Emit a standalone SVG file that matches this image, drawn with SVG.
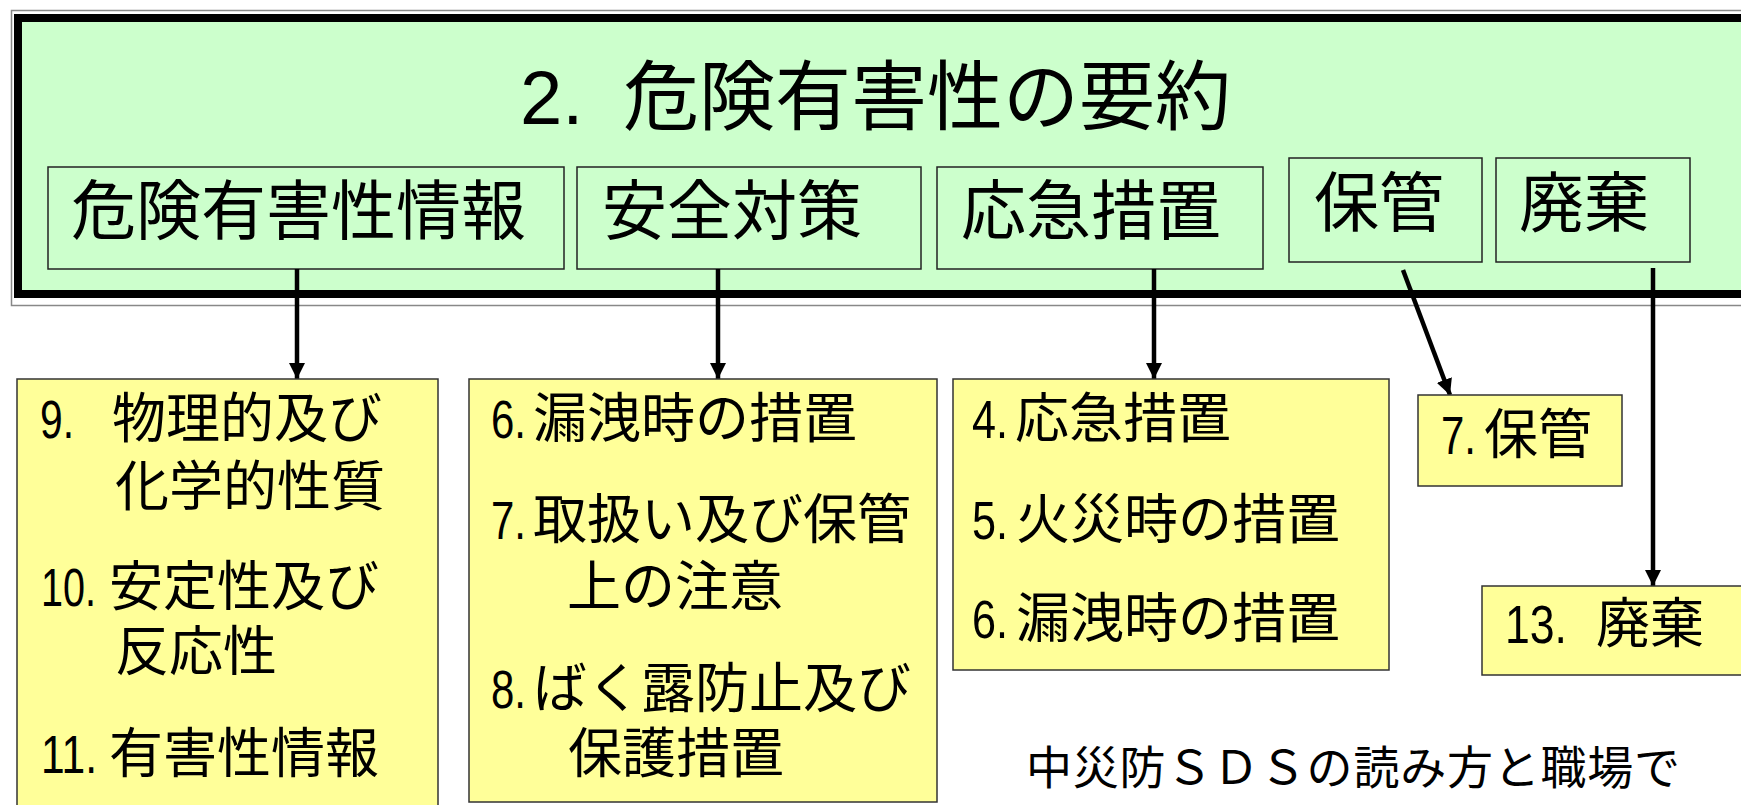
<svg xmlns="http://www.w3.org/2000/svg" width="1741" height="805" viewBox="0 0 1741 805">
<defs>
<style>
text{font-family:"Liberation Sans","Noto Sans CJK JP",sans-serif;fill:#000}
.g{fill:#ccffcc;stroke:#222;stroke-width:1.5}
.y{fill:#ffff99;stroke:#333;stroke-width:1.5}
.t1{font-size:65px}
.t2{font-size:54px}
.conn{stroke:#000;stroke-width:4.5;fill:none;marker-end:url(#ah)}
</style>
<marker id="ah" viewBox="0 0 10 10" refX="10" refY="5" markerWidth="16" markerHeight="16" markerUnits="userSpaceOnUse" orient="auto">
<path d="M0,0 L10,5 L0,10 z" fill="#000"/>
</marker>
</defs>
<rect width="1741" height="805" fill="#fff"/>
<g id="frame">
<rect x="11.5" y="10.5" width="1800" height="295" fill="none" stroke="#888" stroke-width="1.5"/>
<rect x="18" y="18" width="1800" height="276" fill="#ccffcc" stroke="#000" stroke-width="8"/>
<text x="520" y="124" style="font-size:76px">2.<tspan x="623">危険有害性の要約</tspan></text>
</g>
<g id="node-hazard-info">
<rect class="g" x="48" y="167" width="516" height="102"/>
<text class="t1" x="71" y="234">危険有害性情報</text>
</g>
<g id="node-safety">
<rect class="g" x="577" y="167" width="344" height="102"/>
<text class="t1" x="602" y="234">安全対策</text>
</g>
<g id="node-emergency">
<rect class="g" x="937" y="167" width="326" height="102"/>
<text class="t1" x="961" y="234">応急措置</text>
</g>
<g id="node-storage">
<rect class="g" x="1289" y="158" width="193" height="104"/>
<text class="t1" x="1314" y="226">保管</text>
</g>
<g id="node-disposal">
<rect class="g" x="1496" y="158" width="194" height="104"/>
<text class="t1" x="1519" y="226">廃棄</text>
</g>
<g id="connectors">
<line class="conn" x1="297" y1="269" x2="297" y2="379"/>
<line class="conn" x1="718" y1="269" x2="718" y2="379"/>
<line class="conn" x1="1154" y1="269" x2="1154" y2="379"/>
<line class="conn" x1="1403" y1="270" x2="1450" y2="395"/>
<line class="conn" x1="1653" y1="268" x2="1653" y2="586"/>
</g>
<g id="node-sec9-11">
<rect class="y" x="17" y="379" width="421" height="440"/>
<text class="t2" x="40" y="438" textLength="34" lengthAdjust="spacingAndGlyphs">9.</text>
<text class="t2" x="112" y="438">物理的及び</text>
<text class="t2" x="115" y="506">化学的性質</text>
<text class="t2" x="41" y="606" textLength="55" lengthAdjust="spacingAndGlyphs">10.</text>
<text class="t2" x="109" y="606">安定性及び</text>
<text class="t2" x="115" y="671">反応性</text>
<text class="t2" x="41" y="773" textLength="56" lengthAdjust="spacingAndGlyphs">11.</text>
<text class="t2" x="109" y="773">有害性情報</text>
</g>
<g id="node-sec6-8">
<rect class="y" x="469" y="379" width="468" height="423"/>
<text class="t2" x="491" y="438" textLength="35" lengthAdjust="spacingAndGlyphs">6.</text>
<text class="t2" x="533" y="438">漏洩時の措置</text>
<text class="t2" x="491" y="539" textLength="35" lengthAdjust="spacingAndGlyphs">7.</text>
<text class="t2" x="533" y="539">取扱い及び保管</text>
<text class="t2" x="567" y="606">上の注意</text>
<text class="t2" x="491" y="708" textLength="35" lengthAdjust="spacingAndGlyphs">8.</text>
<text class="t2" x="533" y="708">ばく露防止及び</text>
<text class="t2" x="568" y="773">保護措置</text>
</g>
<g id="node-sec4-6">
<rect class="y" x="953" y="379" width="436" height="291"/>
<text class="t2" x="972" y="438" textLength="36" lengthAdjust="spacingAndGlyphs">4.</text>
<text class="t2" x="1015" y="438">応急措置</text>
<text class="t2" x="972" y="539" textLength="36" lengthAdjust="spacingAndGlyphs">5.</text>
<text class="t2" x="1016" y="539">火災時の措置</text>
<text class="t2" x="972" y="638" textLength="36" lengthAdjust="spacingAndGlyphs">6.</text>
<text class="t2" x="1016" y="638">漏洩時の措置</text>
</g>
<g id="node-sec7">
<rect class="y" x="1418" y="395" width="204" height="91"/>
<text class="t2" x="1441" y="454" textLength="35" lengthAdjust="spacingAndGlyphs">7.</text>
<text class="t2" x="1484" y="454">保管</text>
</g>
<g id="node-sec13">
<rect class="y" x="1482" y="586" width="300" height="89"/>
<text class="t2" x="1505" y="643" textLength="62" lengthAdjust="spacingAndGlyphs">13.</text>
<text class="t2" x="1596" y="643">廃棄</text>
</g>
<text x="1026" y="784" style="font-size:46px" textLength="654">中災防ＳＤＳの読み方と職場で</text>
</svg>
